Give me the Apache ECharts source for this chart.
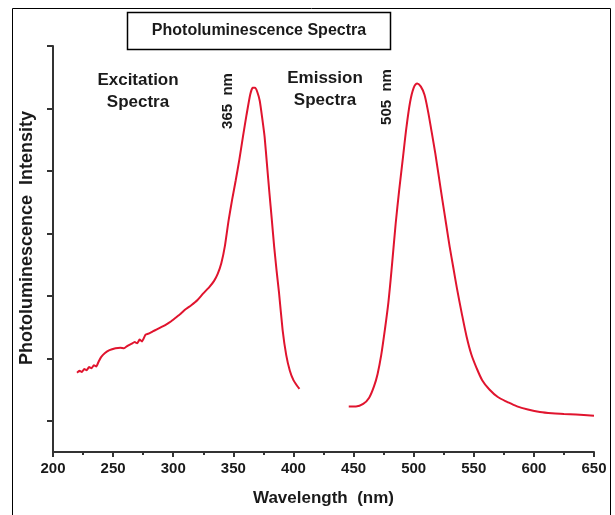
<!DOCTYPE html>
<html><head><meta charset="utf-8">
<script src="https://cdn.jsdelivr.net/npm/echarts@6/dist/echarts.min.js"></script>
<style>html,body{margin:0;padding:0;background:#fff}#c{width:615px;height:515px}</style>
</head><body><div id="c"></div>
<script>
const xTicks = [200, 250, 300, 350, 400, 450, 500, 550, 600, 650];
const yTickValues = [0.5, 1.5, 2.5, 3.5, 4.5, 5.5, 6.5];
const excitationX = [220,222,224,226,228,230,232,234,236,238,240,243,247,252,256,259,262,265,268,270,272,274,277,280,283,286,290,294,298,302,306,310,315,320,325,330,334,337,340,343,346,349,352,355,358,361,364,366,368,370,372,374,376,378,380,382,384,386,388,391,394,397,400,403,405];
const excitationY = [1.27,1.30,1.28,1.33,1.31,1.36,1.34,1.39,1.37,1.45,1.52,1.58,1.63,1.66,1.67,1.66,1.70,1.73,1.76,1.74,1.80,1.77,1.88,1.90,1.93,1.96,2.00,2.04,2.09,2.15,2.21,2.28,2.35,2.43,2.54,2.64,2.74,2.85,3.02,3.30,3.70,4.04,4.35,4.68,5.05,5.40,5.72,5.83,5.83,5.76,5.62,5.35,5.05,4.60,4.15,3.72,3.28,2.90,2.55,1.95,1.55,1.30,1.15,1.06,1.01];
const emissionX = [446,452,458,463,467,470,473,476,479,482,485,488,491,494,497,500,503,506,509,512,515,518,521,524,527,530,533,536,540,544,548,552,557,563,570,578,586,595,605,615,625,635,650];
const emissionY = [0.73,0.73,0.77,0.87,1.05,1.25,1.55,1.95,2.40,3.00,3.65,4.20,4.70,5.20,5.60,5.83,5.90,5.85,5.72,5.45,5.12,4.78,4.40,4.02,3.65,3.28,2.95,2.62,2.22,1.85,1.56,1.36,1.15,1.00,0.88,0.80,0.73,0.68,0.64,0.62,0.61,0.60,0.58];

const zip = (xs, ys) => xs.map((x, i) => [x, ys[i]]);
const FONT = '"Liberation Sans", Arial, sans-serif';
const RED = '#e0142e';
const INK = '#1a1a1a';

const chart = echarts.init(document.getElementById('c'), null, {renderer: 'canvas'});
chart.setOption({
  animation: false,
  backgroundColor: '#fff',
  grid: {left: 53, right: 21, top: 46, bottom: 63},
  xAxis: {
    type: 'value', min: xTicks[0], max: xTicks[xTicks.length - 1], interval: 50,
    name: 'Wavelength  (nm)', nameLocation: 'middle', nameGap: 38,
    nameTextStyle: {fontFamily: FONT, fontWeight: 'bold', fontSize: 17, color: INK},
    axisLine: {lineStyle: {color: '#333', width: 2}},
    axisTick: {show: true, inside: false, length: 5, lineStyle: {color: '#333', width: 2}},
    minorTick: {show: true, splitNumber: 2, length: 3, lineStyle: {color: '#333', width: 2}},
    axisLabel: {fontFamily: FONT, fontWeight: 'bold', fontSize: 15, color: INK, margin: 9},
    splitLine: {show: false}
  },
  yAxis: {
    type: 'value', min: 0, max: 6.5,
    name: 'Photoluminescence  Intensity', nameLocation: 'middle', nameGap: 17, nameRotate: 90,
    nameTextStyle: {fontFamily: FONT, fontWeight: 'bold', fontSize: 18, color: INK, padding: [0, 0, 0, 22]},
    axisLine: {show: true, lineStyle: {color: '#333', width: 2}},
    axisTick: {show: true, inside: false, length: 6, customValues: yTickValues, lineStyle: {color: '#333', width: 2}},
    axisLabel: {show: false},
    splitLine: {show: false}
  },
  graphic: [
    {type: 'rect', shape: {x: 12.5, y: 8.5, width: 598, height: 520}, style: {fill: 'none', stroke: '#000', lineWidth: 1}, silent: true},
    {type: 'rect', shape: {x: 127.5, y: 12.5, width: 263, height: 37}, style: {fill: '#fff', stroke: '#000', lineWidth: 1.5}, silent: true},
    {type: 'text', x: 259, y: 31, style: {text: 'Photoluminescence Spectra', font: 'bold 16px ' + FONT, fill: INK, align: 'center', verticalAlign: 'middle'}},
    {type: 'text', x: 138, y: 91, style: {text: 'Excitation\nSpectra', font: 'bold 17px ' + FONT, fill: INK, align: 'center', verticalAlign: 'middle', lineHeight: 22}},
    {type: 'text', x: 325, y: 89, style: {text: 'Emission\nSpectra', font: 'bold 17px ' + FONT, fill: INK, align: 'center', verticalAlign: 'middle', lineHeight: 22}},
    {type: 'text', x: 228, y: 101, rotation: Math.PI / 2, style: {text: '365  nm', font: 'bold 15px ' + FONT, fill: INK, align: 'center', verticalAlign: 'middle'}},
    {type: 'text', x: 387, y: 97, rotation: Math.PI / 2, style: {text: '505  nm', font: 'bold 15px ' + FONT, fill: INK, align: 'center', verticalAlign: 'middle'}}
  ],
  series: [
    {type: 'line', name: 'Excitation', data: zip(excitationX, excitationY), showSymbol: false, smooth: 0.15, lineStyle: {color: RED, width: 2}},
    {type: 'line', name: 'Emission', data: zip(emissionX, emissionY), showSymbol: false, smooth: 0.3, lineStyle: {color: RED, width: 2}}
  ]
});
</script></body></html>
